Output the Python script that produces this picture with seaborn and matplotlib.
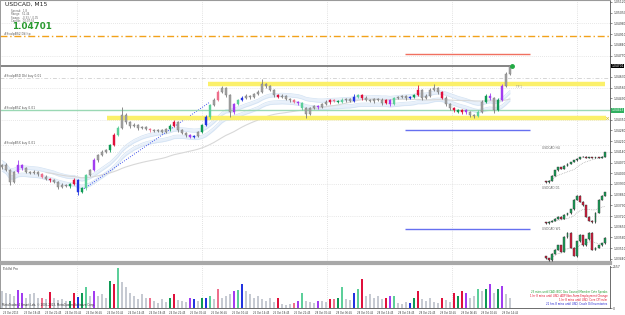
import numpy as np
import pandas as pd
import matplotlib
matplotlib.use("Agg")
import matplotlib.pyplot as plt
import seaborn as sns

# USDCAD M15 - each drawn candle stands for 3 bars (45 min)
open_first = 1.04040
closes = [
    1.04054, 1.04021, 1.03942, 1.04008, 1.04054, 1.04034, 1.04008, 1.04001, 1.04008, 1.03995,
    1.03975, 1.03962, 1.03955, 1.03942, 1.03910, 1.03923, 1.03916, 1.03929, 1.03955, 1.03877,
    1.03903, 1.03988, 1.04021, 1.04086, 1.04119, 1.04139, 1.04152, 1.04184, 1.04250, 1.04296,
    1.04381, 1.04335, 1.04309, 1.04315, 1.04296, 1.04302, 1.04289, 1.04282, 1.04276, 1.04282,
    1.04269, 1.04289, 1.04309, 1.04335, 1.04282, 1.04263, 1.04250, 1.04237, 1.04243, 1.04269,
    1.04315, 1.04367, 1.04446, 1.04479, 1.04531, 1.04557, 1.04511, 1.04400, 1.04452, 1.04479,
    1.04492, 1.04505, 1.04498, 1.04518, 1.04531, 1.04583, 1.04570, 1.04544, 1.04511, 1.04498,
    1.04505, 1.04485, 1.04479, 1.04466, 1.04459, 1.04426, 1.04387, 1.04426, 1.04439, 1.04433,
    1.04452, 1.04466, 1.04479, 1.04472, 1.04466, 1.04479, 1.04485, 1.04472, 1.04498, 1.04511,
    1.04492, 1.04479, 1.04472, 1.04485, 1.04479, 1.04459, 1.04479, 1.04452, 1.04492, 1.04498,
    1.04505, 1.04492, 1.04498, 1.04511, 1.04544, 1.04492, 1.04505, 1.04544, 1.04557, 1.04531,
    1.04492, 1.04452, 1.04426, 1.04413, 1.04400, 1.04413, 1.04400, 1.04381, 1.04374, 1.04400,
    1.04466, 1.04505, 1.04492, 1.04413, 1.04479, 1.04570, 1.04649, 1.04701]
# wicks in points (0.00001)
upper_wick = [
    8, 10, 6, 8, 30, 8, 6, 8, 10, 6,
    8, 12, 6, 8, 6, 10, 8, 6, 12, 8,
    6, 10, 8, 12, 8, 10, 6, 8, 10, 12,
    52, 10, 8, 12, 8, 10, 6, 8, 10, 8,
    8, 10, 12, 14, 8, 6, 8, 6, 10, 8,
    10, 12, 10, 14, 12, 16, 10, 8, 10, 8,
    12, 10, 8, 10, 12, 33, 10, 8, 6, 8,
    10, 8, 6, 8, 6, 8, 10, 8, 10, 6,
    8, 10, 8, 6, 8, 10, 8, 6, 20, 10,
    8, 10, 8, 6, 8, 10, 8, 6, 8, 10,
    8, 6, 10, 8, 30, 8, 10, 12, 25, 10,
    8, 10, 6, 8, 10, 8, 6, 10, 8, 12,
    10, 12, 20, 8, 10, 12, 14, 10]
lower_wick = [
    10, 8, 20, 8, 6, 10, 8, 6, 8, 10,
    8, 6, 10, 8, 12, 8, 6, 10, 8, 20,
    8, 10, 6, 8, 10, 8, 6, 10, 8, 6,
    8, 10, 12, 8, 10, 6, 8, 10, 8, 6,
    8, 6, 10, 8, 12, 8, 10, 8, 6, 8,
    6, 8, 10, 8, 6, 8, 12, 33, 10, 8,
    8, 6, 10, 8, 6, 8, 10, 8, 12, 8,
    6, 8, 10, 8, 12, 10, 26, 8, 6, 10,
    8, 6, 10, 8, 6, 8, 10, 8, 6, 8,
    10, 8, 6, 10, 8, 12, 8, 14, 8, 6,
    8, 10, 8, 6, 8, 10, 8, 6, 8, 10,
    8, 10, 12, 10, 8, 10, 12, 15, 14, 8,
    6, 8, 10, 20, 8, 6, 8, 6]
volumes = [
    1065, 960, 850, 745, 1130, 915, 640, 850, 960, 640,
    600, 530, 1000, 600, 470, 530, 425, 425, 915, 700,
    960, 1280, 745, 1065, 745, 850, 640, 1700, 1490, 2510,
    1600, 1280, 960, 745, 530, 850, 640, 640, 425, 320,
    530, 385, 640, 850, 470, 425, 385, 600, 530, 425,
    600, 640, 745, 530, 1170, 640, 745, 850, 1065, 1110,
    1490, 1065, 850, 640, 745, 530, 425, 640, 385, 640,
    255, 215, 255, 320, 425, 915, 425, 385, 320, 425,
    425, 385, 530, 530, 640, 1280, 530, 470, 960, 1170,
    1810, 745, 850, 640, 745, 530, 600, 745, 745, 320,
    255, 385, 320, 600, 1065, 530, 425, 640, 385, 320,
    640, 470, 385, 960, 745, 1065, 960, 640, 745, 1170,
    1065, 1170, 1490, 960, 1170, 1385, 850, 640]
vol_max = 2557
# highlighted bars: g green, m mint, r red, p pink, v violet, b blue
highlight = {4: 'v', 5: 'v', 10: 'p', 12: 'r', 17: 'g', 18: 'r', 19: 'b', 20: 'g', 21: 'm',
             23: 'v', 27: 'g', 28: 'r', 29: 'm', 37: 'p', 42: 'g', 43: 'r', 47: 'v', 48: 'b',
             50: 'g', 51: 'b', 52: 'm', 54: 'p', 58: 'v', 59: 'm', 60: 'b', 69: 'r', 73: 'p',
             74: 'v', 75: 'm', 79: 'v', 82: 'r', 83: 'p', 84: 'g', 85: 'm', 88: 'b', 89: 'm',
             90: 'r', 96: 'r', 97: 'v', 98: 'm', 102: 'b', 103: 'g', 104: 'r', 110: 'r',
             113: 'r', 114: 'g', 115: 'r', 116: 'v', 119: 'm', 121: 'g', 122: 'v', 124: 'g', 125: 'v'}
tag_colors = {'g': '#0f9a55', 'm': '#5ccf9a', 'r': '#e0103c', 'p': '#ee6f8c', 'v': '#a23cf0', 'b': '#2233e0'}

# horizontal levels
price_now = 1.04701
level_orange = 1.04897
level_red = 1.04779
level_gray_dash = 1.04623
level_yellow_top = 1.04583
level_mint = 1.04413
level_yellow_low = 1.04361
level_blue_top = 1.04282
level_gray_low = 1.04184
level_blue_low = 1.03635
trend_idx = [20, 52]
trend_price = [1.03890, 1.04466]

x_labels = ["23 Oct 2013", "23 Oct 18:45", "23 Oct 22:45", "24 Oct 02:45", "24 Oct 06:45",
            "24 Oct 10:45", "24 Oct 14:45", "24 Oct 18:45", "24 Oct 22:45", "25 Oct 02:45",
            "25 Oct 06:45", "25 Oct 10:45", "25 Oct 14:45", "25 Oct 18:45", "25 Oct 22:45",
            "28 Oct 02:45", "28 Oct 06:45", "28 Oct 10:45", "28 Oct 14:45", "28 Oct 18:45",
            "28 Oct 22:45", "29 Oct 02:45", "29 Oct 06:45", "29 Oct 10:45", "29 Oct 14:45"]

# mini charts
h4_open = 1.0392
h4_closes = [1.0389, 1.0394, 1.0407, 1.0421, 1.0430, 1.0425, 1.0434, 1.0439, 1.0443, 1.0448,
             1.0452, 1.0457, 1.0458, 1.0455, 1.0457, 1.0454, 1.0457, 1.0455, 1.0458, 1.0470]
h4_wick = [8, 6, 10, 12, 8, 10, 6, 8, 10, 6, 12, 8, 10, 6, 8, 10, 6, 8, 10, 12]
d1_open = 1.0312
d1_closes = [1.0306, 1.0314, 1.0320, 1.0330, 1.0340, 1.0330, 1.0350, 1.0360, 1.0380, 1.0430,
             1.0450, 1.0420, 1.0400, 1.0340, 1.0320, 1.0310, 1.0360, 1.0430, 1.0450, 1.0470]
d1_wick = [20, 25, 15, 30, 20, 25, 30, 20, 35, 30, 40, 30, 25, 30, 20, 35, 30, 25, 30, 20]
w1_open = 1.0250
w1_closes = [1.0230, 1.0205, 1.0280, 1.0330, 1.0380, 1.0305, 1.0480, 1.0530, 1.0355, 1.0255,
             1.0430, 1.0505, 1.0380, 1.0455, 1.0530, 1.0330, 1.0355, 1.0380, 1.0405, 1.0470]
w1_wick = [60, 50, 70, 40, 60, 50, 80, 60, 70, 50, 60, 70, 50, 60, 80, 60, 50, 40, 60, 50]

news = [("23 mins until CAD: BOC Gov Council Member Cote Speaks", '#1a9a2a'),
        ("1 hr 8 mins until USD: ADP Non-Farm Employment Change", '#e0102a'),
        ("1 hr 8 mins until USD: Core CPI m/m", '#e0102a'),
        ("21 hrs 8 mins until USD: Crude Oil Inventories", '#2020d0')]

W, H = 625, 315


def box(x0, y0, x1, y1):
    return [x0 / W, 1 - y1 / H, (x1 - x0) / W, (y1 - y0) / H]


def candles(ax, opens, cl, hi, lo, body_cols, edge_cols, width):
    idx = np.arange(len(cl))
    bottoms = np.minimum(opens, cl)
    heights = np.maximum(np.abs(cl - opens), (hi.max() - lo.min()) * 0.006)
    ax.vlines(idx, lo, hi, colors=edge_cols, lw=0.6, zorder=3)
    ax.bar(idx, heights, bottom=bottoms, width=width, color=body_cols,
           edgecolor=edge_cols, linewidth=0.3, zorder=4)


sns.set_style("white")
plt.rcParams['font.family'] = ['DejaVu Sans']
fig = plt.figure(figsize=(6.25, 3.15), dpi=100)
fig.patch.set_facecolor('white')

ax = fig.add_axes(box(0, 0, 610, 263))
axv = fig.add_axes(box(0, 266, 610, 308), sharex=ax)

c = np.array(closes)
o = np.r_[open_first, c[:-1]]
hi = np.maximum(o, c) + np.array(upper_wick) / 1e5
lo = np.minimum(o, c) - np.array(lower_wick) / 1e5
idx = np.arange(len(c))
body = [tag_colors[highlight[i]] if i in highlight else '#a4a4a4' for i in idx]
edge = [tag_colors[highlight[i]] if i in highlight else '#7a7a7a' for i in idx]

ax.set_xlim(-0.5, 152.0)
ax.set_ylim(1.03413, 1.05133)

# grid
for xg in [18.75, 50, 81.25, 112.5, 143.75]:
    ax.axvline(xg, color='#c8c8c8', lw=0.5, ls=(0, (1, 2)), zorder=0)
    axv.axvline(xg, color='#c8c8c8', lw=0.5, ls=(0, (1, 2)), zorder=0)
yt = np.round(np.arange(1.05120, 1.03400, -0.0007), 5)
for yg in yt[2::3]:
    ax.axhline(yg, color='#d0d0d0', lw=0.5, ls=(0, (1, 2)), zorder=0)

# moving-average ribbons
s = pd.Series(c)
ema = s.ewm(span=16).mean()
for lo_off, hi_off in [(0.00008, 0.00030), (-0.00040, -0.00018)]:
    ax.fill_between(idx, ema + lo_off, ema + hi_off, color='#e8f0fa', lw=0, zorder=1)
    sns.lineplot(x=idx, y=ema + lo_off, ax=ax, color='#d2e2f3', lw=0.5, zorder=1)
    sns.lineplot(x=idx, y=ema + hi_off, ax=ax, color='#d2e2f3', lw=0.5, zorder=1)
slow = s.rolling(40, min_periods=12).mean()
sns.lineplot(x=idx, y=slow, ax=ax, color='#d8d8d8', lw=0.8, zorder=1)

# trend line
sns.lineplot(x=trend_idx, y=trend_price, ax=ax, color='#4455ee', lw=0.7,
             linestyle=(0, (1, 1.5)), zorder=2)

# levels
ax.axhline(level_orange, color='#f2a21a', lw=1.0, ls=(0, (5, 2, 1, 2)), zorder=2)
ax.axhline(level_mint, color='#9ad8b4', lw=1.0, zorder=2)
ax.axhline(level_gray_dash, color='#d6d6d6', lw=0.7, ls=(0, (4, 2, 1, 2)), zorder=1)
ax.axhline(level_gray_low, color='#dcdcdc', lw=0.6, ls=(0, (1, 2)), zorder=1)
ax.hlines(price_now, -0.5, 127, color='#707070', lw=1.2, zorder=2)
ax.hlines(level_red, 100.75, 132, color='#f07060', lw=1.0, zorder=2)
ax.hlines([level_blue_top, level_blue_low], 100.75, 132, color='#6670f0', lw=1.0, zorder=2)
ax.hlines(level_yellow_top, 51.5, 150.75, color='#fbf06a', lw=3.2, zorder=2)
ax.hlines(level_yellow_low, 26.25, 151, color='#fbf06a', lw=3.2, zorder=2)
ax.plot(151.2, level_yellow_low, marker='x', ms=2, color='#d8c840', mew=0.5)

candles(ax, o, c, hi, lo, body, edge, 0.62)
ax.plot(127.5, price_now, 'o', ms=2.5, color='#22aa44', zorder=5)

# left texts
ytx = ax.get_yaxis_transform()
ax.text(0.006, level_orange + 0.00002, "#ScalpBS2 Dkl tp", transform=ytx, fontsize=2.2,
        color='#555555', va='bottom')
ax.text(0.006, level_gray_dash + 0.00002, "#ScalpB5D Dkl buy 0.01", transform=ytx,
        fontsize=2.2, color='#555555', va='bottom')
ax.text(0.006, level_mint + 0.00002, "#ScalpB5Z buy 0.01", transform=ytx, fontsize=2.2,
        color='#555555', va='bottom')
ax.text(0.006, level_gray_low + 0.00002, "#ScalpB5X buy 0.01", transform=ytx, fontsize=2.2,
        color='#555555', va='bottom')
ax.text(128.5, level_yellow_top - 0.00004, "TP 1", fontsize=2.0, color='#999999', va='top')

# header
ax.text(0.008, 0.995, "USDCAD, M15", transform=ax.transAxes, fontsize=4.3, color='#222222',
        va='top')
info = ["Spread:  1.8", "Range:  51.44", "Swaps:  -0.33 / -0.05", "Candle:  00:07:56"]
for k, line in enumerate(info):
    ax.text(0.018, 0.965 - k * 0.0125, line, transform=ax.transAxes, fontsize=1.9,
            color='#666666', va='top')
ax.text(0.019, 0.915, "1.04701", transform=ax.transAxes, fontsize=6.3, color='#2a9a30',
        va='top', fontweight='bold')

# price axis (ticks hidden under the two price boxes)
shown = [v for v in yt if abs(v - price_now) > 0.0003 and abs(v - level_mint) > 0.0003]
ax.yaxis.tick_right()
ax.set_yticks(shown)
ax.set_yticklabels([f"{v:.5f}" for v in shown])
ax.tick_params(axis='y', labelsize=2.2, length=1.5, width=0.4, pad=0.8, colors='#333333')
ax.tick_params(axis='x', bottom=False, labelbottom=False)
ax.set_xlabel('')
ax.set_ylabel('')
ax.text(1.002, price_now, f"{price_now:.5f}", transform=ytx, fontsize=2.2, color='white',
        va='center', ha='left', bbox=dict(fc='black', ec='none', pad=0.3))
ax.text(1.002, level_mint, f"{level_mint:.5f}", transform=ytx, fontsize=2.2, color='white',
        va='center', ha='left', bbox=dict(fc='#30b060', ec='none', pad=0.3))
for sp in ['left', 'top']:
    ax.spines[sp].set_color('#9a9a9a')
ax.spines['left'].set_linewidth(1.4)
ax.spines['right'].set_color('#555555')
ax.spines['right'].set_linewidth(0.6)
ax.spines['bottom'].set_color('#a8a8a8')
ax.spines['bottom'].set_linewidth(3)

# volume panel
vcol = [tag_colors[highlight[i]] if i in highlight else '#c6cad2' for i in idx]
axv.bar(idx, volumes, width=0.5, color=vcol, linewidth=0, zorder=2)
axv.set_ylim(0, vol_max * 1.02)
axv.yaxis.tick_right()
axv.set_yticks([0, vol_max])
axv.set_yticklabels(["0", str(vol_max)])
axv.tick_params(axis='y', labelsize=2.2, length=1.5, width=0.4, pad=0.8, colors='#333333')
xt = [0.25 + k * 5.2 for k in range(len(x_labels))]
axv.set_xticks(xt)
axv.set_xticklabels(x_labels, ha='left')
axv.tick_params(axis='x', labelsize=1.8, length=1.5, width=0.4, pad=1, colors='#333333')
axv.set_xlabel('')
axv.set_ylabel('')
axv.text(0.004, 0.97, "TickVol Pro", transform=axv.transAxes, fontsize=2.2, color='#444444',
         va='top')
axv.text(0.004, 0.03, "MetaTrader 4 Smart Lab, \u00a9 2005-2013, MetaQuotes Software Corp.",
         transform=axv.transAxes, fontsize=2.0, color='#333333', va='bottom')
for k, (line, col) in enumerate(news):
    axv.text(0.996, 0.42 - k * 0.09, line, transform=axv.transAxes, fontsize=1.9, color=col,
             ha='right', va='top')
axv.spines['left'].set_color('#9a9a9a')
axv.spines['left'].set_linewidth(1.4)
axv.spines['top'].set_visible(False)
axv.spines['right'].set_color('#555555')
axv.spines['right'].set_linewidth(0.6)
axv.spines['bottom'].set_color('#555555')
axv.spines['bottom'].set_linewidth(0.6)


def mini(rect, open0, cls, wick, title):
    m = fig.add_axes(box(*rect))
    m.patch.set_alpha(0)
    mc = np.array(cls)
    mo = np.r_[open0, mc[:-1]]
    mh = np.maximum(mo, mc) + np.array(wick) / 1e5
    ml = np.minimum(mo, mc) - np.array(wick) / 1e5
    cols = ['#18a058' if b >= a else '#d81c3c' for a, b in zip(mo, mc)]
    candles(m, mo, mc, mh, ml, cols, ['#333333'] * len(mc), 0.6)
    ma = pd.Series(mc).rolling(10, min_periods=1).mean()
    sns.lineplot(x=np.arange(len(mc)), y=ma, ax=m, color='#999999', lw=0.5,
                 linestyle=(0, (1, 1.5)), zorder=2)
    m.set_xlim(-1.5, len(mc) - 0.3)
    rng = mh.max() - ml.min()
    m.set_ylim(ml.min() - rng * 0.04, mh.max() + rng * 0.18)
    m.text(0.02, 0.99, title, transform=m.transAxes, fontsize=2.2, color='#666666', va='top')
    m.set_axis_off()


mini((541, 146, 607, 184), h4_open, h4_closes, h4_wick, "USDCAD H4")
mini((541, 186, 607, 225), d1_open, d1_closes, d1_wick, "USDCAD D1")
mini((541, 227, 607, 262), w1_open, w1_closes, w1_wick, "USDCAD W1")

fig.savefig("out.png", dpi=100)
